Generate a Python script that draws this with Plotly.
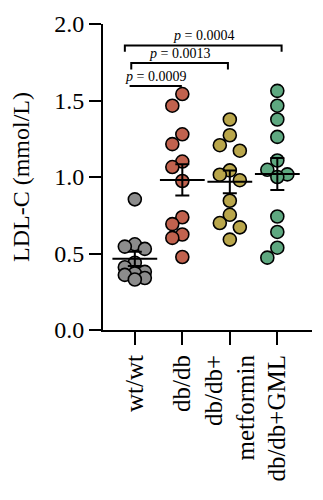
import numpy as np
import plotly.graph_objects as go

# ---- data (LDL-C, mmol/L) ----
groups = ["wt/wt", "db/db", "db/db+<br>metformin", "db/db+GML"]
wt_wt = [0.854, 0.560, 0.545, 0.530, 0.440, 0.410, 0.380, 0.370, 0.360, 0.340, 0.330]
db_db = [1.542, 1.466, 1.279, 1.215, 1.101, 1.065, 0.974, 0.737, 0.692, 0.624, 0.602, 0.477]
db_met = [1.376, 1.273, 1.208, 1.172, 1.043, 1.015, 0.979, 0.845, 0.753, 0.699, 0.671, 0.591]
db_gml = [1.563, 1.466, 1.376, 1.262, 1.108, 1.047, 1.017, 1.000, 0.742, 0.641, 0.538, 0.473]
series = [wt_wt, db_db, db_met, db_gml]

# pairwise comparisons: (group a, group b, p value text)
comparisons = [(0, 1, "0.0009"), (0, 2, "0.0013"), (0, 3, "0.0004")]

# ---- style ----
colors = ["#8c8c8c", "#c1624e", "#b9a64b", "#5ea880"]
FONT = "Liberation Serif"
W, H = 323, 500
M = dict(l=103, r=11, t=21, b=170)
XR = [-0.67, 3.73]
YR = [0.0, 2.0]
px_x = (W - M["l"] - M["r"]) / (XR[1] - XR[0])
px_y = (H - M["t"] - M["b"]) / (YR[1] - YR[0])


def swarm_offsets(vals, diam=12.0, step=10.0):
    """Compact beeswarm: each point goes to the centre, left or right slot,
    taking the first free one, or the least crowded if none is free."""
    order = sorted(range(len(vals)), key=lambda i: -vals[i])
    placed, offs = [], [0.0] * len(vals)
    for i in order:
        best, best_d = 0.0, -1.0
        for k in (0, -1, 1):
            dx = k * step
            dmin = min((np.hypot(dx - px, (vals[i] - vy) * px_y) for px, vy in placed),
                       default=1e9)
            if dmin >= diam:
                best = dx
                break
            if dmin > best_d:
                best, best_d = dx, dmin
        placed.append((best, vals[i]))
        offs[i] = best / px_x
    return offs


fig = go.Figure()

for gi, vals in enumerate(series):
    offs = swarm_offsets(vals)
    fig.add_trace(go.Scatter(
        x=[gi + o for o in offs], y=vals, mode="markers",
        marker=dict(size=13, color=colors[gi], line=dict(color="black", width=1.6)),
        showlegend=False, hoverinfo="y"))

# mean ± SEM drawn over the points
for gi, vals in enumerate(series):
    v = np.asarray(vals)
    mean = v.mean()
    sem = v.std(ddof=1) / np.sqrt(len(v))
    fig.add_trace(go.Scatter(
        x=[gi], y=[mean], mode="markers",
        marker=dict(symbol="line-ew", size=32, line=dict(color="black", width=2)),
        error_y=dict(type="data", array=[sem], color="black", thickness=2, width=7),
        showlegend=False, hoverinfo="y"))

# significance brackets
levels = [1.595, 1.745, 1.860]
spans = [(-0.11, 0.99), (-0.075, 1.96), (-0.21, 3.09)]
drops = [0.0, 0.042, 0.042]
for (a, b, p), lvl, (x0, x1), d in zip(comparisons, levels, spans, drops):
    if d > 0:
        fig.add_shape(type="path",
                      path=f"M {x0},{lvl - d} L {x0},{lvl} L {x1},{lvl} L {x1},{lvl - d}",
                      xref="x", yref="y", line=dict(color="black", width=2))
    else:
        fig.add_shape(type="line", x0=x0, x1=x1, y0=lvl, y1=lvl,
                      xref="x", yref="y", line=dict(color="black", width=2))
    fig.add_annotation(x=(x0 + x1) / 2, y=lvl, xref="x", yref="y",
                       text=f"<i>p</i> = {p}", showarrow=False,
                       yanchor="bottom", yshift=0,
                       font=dict(family=FONT, size=14, color="black"))

fig.update_layout(
    width=W, height=H, margin=M,
    paper_bgcolor="white", plot_bgcolor="white",
    font=dict(family=FONT, color="black"),
    xaxis=dict(range=XR, tickvals=[0, 1, 2, 3], ticktext=groups, tickangle=-90,
               showline=True, linecolor="black", linewidth=2, ticks="outside",
               ticklen=13, tickwidth=2, tickcolor="black", showgrid=False,
               zeroline=False, tickfont=dict(family=FONT, size=25)),
    yaxis=dict(range=YR, dtick=0.5, tickformat=".1f", showline=True,
               linecolor="black", linewidth=2, ticks="outside", ticklen=12,
               tickwidth=2, tickcolor="black", showgrid=False, zeroline=False,
               tickfont=dict(family=FONT, size=24),
               title=dict(text="LDL-C (mmol/L)", font=dict(family=FONT, size=24),
                          standoff=18)),
)

fig.write_html("out.html")
